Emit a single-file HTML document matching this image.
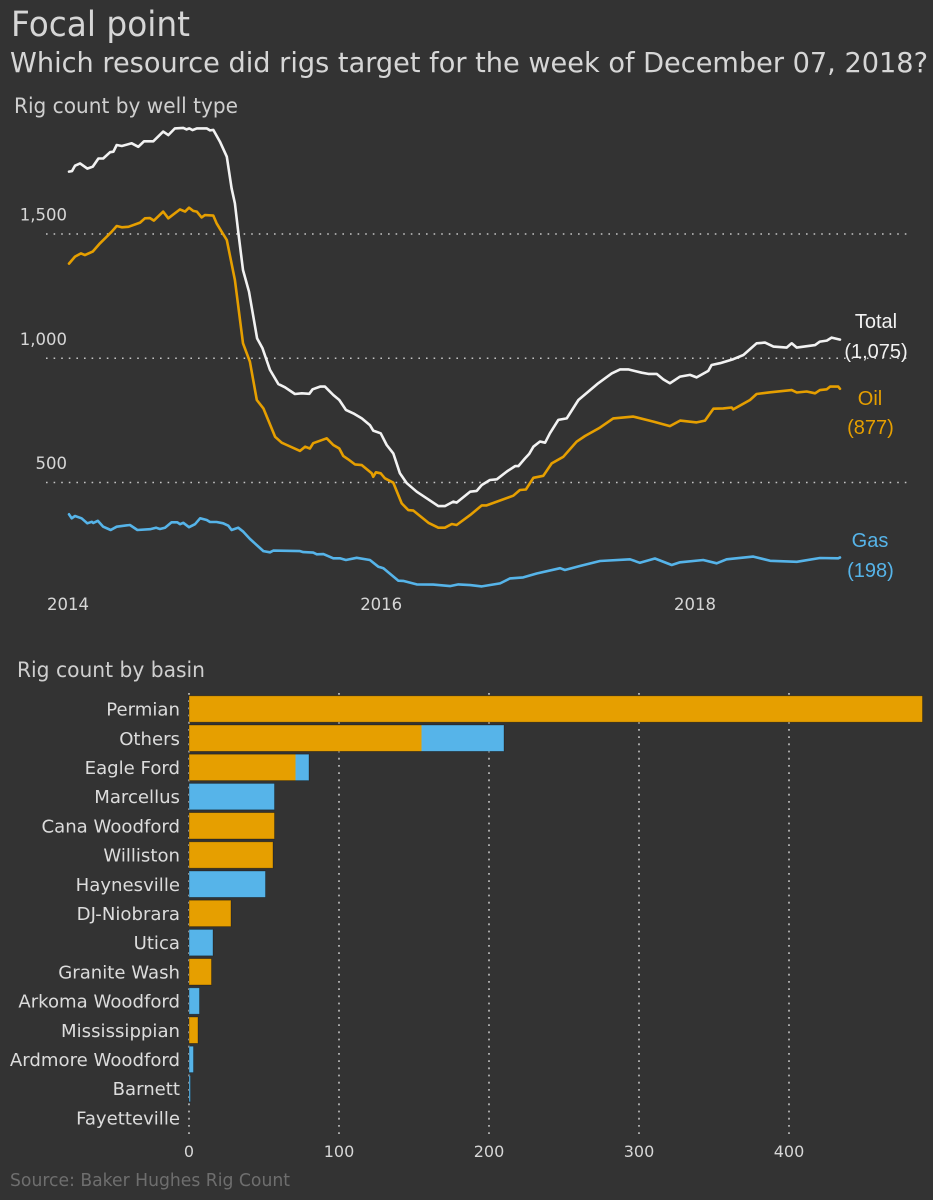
<!DOCTYPE html>
<html lang="en">
<head>
<meta charset="utf-8">
<title>Focal point</title>
<style>
  html, body { margin: 0; padding: 0; background: #333333; }
  svg { display: block; }
  text { font-family: "DejaVu Sans", "Liberation Sans", sans-serif; }
  .arial { font-family: "Liberation Sans", sans-serif; }
</style>
</head>
<body>
<svg id="chart" xmlns="http://www.w3.org/2000/svg" width="933" height="1200" viewBox="0 0 933 1200">
  <rect x="0" y="0" width="933" height="1200" fill="#333333"/>
  <text x="11" y="36" font-size="34.5" fill="#d6d6d6" textLength="179" lengthAdjust="spacingAndGlyphs">Focal point</text>
  <text x="10" y="72" font-size="27.5" fill="#d6d6d6" textLength="918" lengthAdjust="spacingAndGlyphs">Which resource did rigs target for the week of December 07, 2018?</text>
  <text x="14" y="113" font-size="21.5" fill="#cfcfcf" textLength="224" lengthAdjust="spacingAndGlyphs">Rig count by well type</text>
  <text x="17" y="677" font-size="21.5" fill="#cfcfcf" textLength="188" lengthAdjust="spacingAndGlyphs">Rig count by basin</text>
  <g id="hgrid"></g>
  <g id="yticks"></g>
  <g id="xticks"></g>
  <g id="lines"></g>
  <text class="arial" x="876" y="328" font-size="20" fill="#f2f2f2" text-anchor="middle">Total</text>
  <text class="arial" id="total-value" x="876" y="358" font-size="20" fill="#f2f2f2" text-anchor="middle">(1,075)</text>
  <text class="arial" x="870" y="405" font-size="20" fill="#E69F00" text-anchor="middle">Oil</text>
  <text class="arial" id="oil-value" x="870.5" y="434" font-size="20" fill="#E69F00" text-anchor="middle">(877)</text>
  <text class="arial" x="870" y="547" font-size="20" fill="#56B4E9" text-anchor="middle">Gas</text>
  <text class="arial" id="gas-value" x="870.5" y="577" font-size="20" fill="#56B4E9" text-anchor="middle">(198)</text>
  <g id="vgrid"></g>
  <g id="bars"></g>
  <g id="barlabels"></g>
  <g id="barticks"></g>
  <text x="10" y="1186" font-size="18" fill="#6e6e6e" textLength="280" lengthAdjust="spacingAndGlyphs">Source: Baker Hughes Rig Count</text>
</svg>
<script>
// Line chart data: weeks since the start of January 2014, rig counts
const totalWeeks = [0,1,2,3.7,6.1,7.9,9.8,11.4,13.7,14.8,15.9,17.6,20.9,23.1,25,28.1,31.4,33.1,35.3,38.1,39.2,40.1,41.2,42.6,45.9,47,48.1,50.3,52.6,54.2,55.3,56.4,58,60,62.7,64.5,67,69.8,72,75.3,77.6,80.1,81.2,83.7,85.3,88.1,90.1,92.3,94.8,97.6,100.3,101.4,103.9,105.9,108.1,110.3,112.6,115.9,119.8,123.1,125.3,128.1,129.2,133.7,135.9,137.6,140.3,142.6,145.9,148.7,149.8,152,153.4,154.8,157,158.7,160.3,163.1,165.9,169.8,176.4,180.9,183.7,186.4,190.9,193.1,195.9,198.1,200.3,203.7,207,209.2,213.1,214.2,217,221.4,224.8,229.2,232,234.8,239.2,240.9,242.6,248.7,250.3,252.6,254.2,257];
const totalRigs = [1751,1753,1775,1784,1763,1771,1804,1804,1829,1831,1858,1854,1865,1851,1873,1873,1912,1898,1925,1927,1921,1925,1918,1925,1925,1917,1919,1872,1811,1684,1623,1510,1355,1268,1080,1040,953,896,883,856,859,857,875,886,886,852,832,792,778,758,731,709,698,651,617,537,497,463,432,405,405,423,419,463,466,490,510,513,544,566,566,597,615,644,665,660,698,752,758,832,899,939,955,955,942,937,937,915,899,926,933,923,949,973,980,996,1013,1060,1063,1047,1043,1060,1043,1053,1067,1071,1083,1075];
const oilWeeks = [0,2,4,5.3,7.9,10.3,14.2,15.9,17.6,19.8,23.7,25.3,27,28.3,31.4,33.1,37,38.7,40,41.4,42.6,44.2,45.3,48.1,49.2,50.9,52.6,55.3,58,60.3,62.6,64.8,68.7,70.9,72.6,77,78.7,80.3,81.4,85.9,88.1,90.1,91.4,93.1,95.3,97.6,100.9,101.4,102.3,103.9,105.3,108.1,110.9,113.1,114.8,119.8,123.1,125.3,127.6,129.2,133.7,137.6,139.2,148.1,150.3,152.3,154.8,158.1,160.9,164.8,169.2,172,177,181.4,188.1,194.8,200.3,203.7,209.2,212,214.8,218.1,220.9,221.4,227,229.2,233.7,240.9,242.6,245.9,248.7,250.3,252.6,253.7,256.4,257];
const oilRigs = [1381,1409,1422,1415,1429,1462,1509,1532,1527,1529,1546,1563,1564,1554,1590,1563,1599,1590,1606,1593,1590,1567,1576,1574,1543,1509,1476,1315,1060,986,832,798,684,660,651,627,644,637,658,678,651,637,607,593,573,570,537,523,541,537,517,499,416,389,387,338,318,318,333,329,369,408,408,447,470,472,519,527,577,604,664,687,721,758,765,745,727,749,742,749,797,798,802,794,832,856,863,872,862,866,859,872,875,886,886,877];
const gasWeeks = [0,0.9,2,4.2,6.1,7.6,8.1,9.6,11.4,13.9,15.9,20.3,22.8,27,29,30.3,32,34.2,36.1,37,38.1,40,42,43.7,45.9,47,49.2,51.4,53.1,54.2,56.4,58.1,60.3,64.8,67,68.1,77,78.1,81.4,82.6,84.8,88.1,90.3,92.3,95.9,100.3,103.1,104.8,109.8,111.4,115.9,121.4,127,129.8,133.7,137.6,143.7,147,151.4,155.9,163.7,165.3,170.3,177,187,190.3,195.3,200.9,203.7,211.4,215.9,219.2,228.1,233.7,242.6,250.3,256.4,257];
const gasRigs = [372,356,365,356,336,342,337,346,322,309,322,329,309,312,318,313,318,340,340,332,338,320,332,356,349,341,341,336,326,309,318,302,273,224,219,226,224,220,218,211,212,195,195,188,197,188,161,155,105,104,90,89,83,90,87,82,94,114,118,134,155,148,164,184,191,177,194,168,179,188,175,191,202,185,181,196,195,198];

const rigTicks = [500,1000,1500];
const rigTickLabels = ['500','1,000','1,500'];
const weekTicks = [0,104.4,209];
const weekTickLabels = ['2014','2016','2018'];

// Bar chart data
const basins = ['Permian','Others','Eagle Ford','Marcellus','Cana Woodford','Williston','Haynesville','DJ-Niobrara','Utica','Granite Wash','Arkoma Woodford','Mississippian','Ardmore Woodford','Barnett','Fayetteville'];
const basinOil = [489,155,71,0,57,56,0,28,0,15,0,6,0,0,0];
const basinGas = [0,55,9,57,0,0,51,0,16,0,7,0,3,1,0];
const countTicks = [0,100,200,300,400];

const NS = 'http://www.w3.org/2000/svg';
function make(parent, tag, attrs, txt) {
  const el = document.createElementNS(NS, tag);
  for (const k in attrs) el.setAttribute(k, attrs[k]);
  if (txt !== undefined) el.textContent = txt;
  parent.appendChild(el);
  return el;
}
const byId = (i) => document.getElementById(i);

// Axis functions
const xWeek = (w) => 69 + 3 * w;
const yRig = (v) => 606.75 - 0.2485 * v;
const xCount = (v) => 189 + 1.5 * v;
const yBasin = (i) => 709 + 29.2 * i;
const BAR_H = 26.4;

// Horizontal gridlines and y labels
rigTicks.forEach(function (t, i) {
  const g = make(byId('hgrid'), 'line', { x1: 46, x2: 909, y1: yRig(t), y2: yRig(t), stroke: '#c4c4c4', 'stroke-width': 1.6, 'stroke-dasharray': '1.6 6' });
  
  
  const l = make(byId('yticks'), 'text', { x: 67, y: yRig(t) - 13.5, 'font-size': 16.5, fill: '#d6d6d6', 'text-anchor': 'end' }, rigTickLabels[i]);
  
  
});

// X labels
weekTicks.forEach(function (t, i) {
  const l = make(byId('xticks'), 'text', { x: xWeek(t) - 1, y: 610, 'font-size': 16.5, fill: '#d6d6d6', 'text-anchor': 'middle' }, weekTickLabels[i]);
  
  
});

// Lines
function drawLine(weeks, values, colour) {
  const pts = weeks.map(function (w, i) { return xWeek(w).toFixed(1) + ',' + yRig(values[i]).toFixed(1); }).join(' ');
  return make(byId('lines'), 'polyline', { points: pts, fill: 'none', stroke: colour, 'stroke-width': 2.6, 'stroke-linejoin': 'round', 'stroke-linecap': 'round' });
}
const gasLine = drawLine(gasWeeks, gasRigs, '#56B4E9');


const oilLine = drawLine(oilWeeks, oilRigs, '#E69F00');


const totalLine = drawLine(totalWeeks, totalRigs, '#f2f2f2');



// Vertical gridlines and labels
countTicks.forEach(function (t) {
  const g = make(byId('vgrid'), 'line', { x1: xCount(t), x2: xCount(t), y1: 693, y2: 1134, stroke: '#b4b4b4', 'stroke-width': 1.8, 'stroke-dasharray': '1.8 5.4' });
  
  
  const l = make(byId('barticks'), 'text', { x: xCount(t), y: 1157, 'font-size': 16, fill: '#d6d6d6', 'text-anchor': 'middle' }, String(t));
  
  
});

// Bars and labels
basins.forEach(function (name, i) {
  const y = yBasin(i) - BAR_H / 2;
  const oil = basinOil[i];
  const gas = basinGas[i];
  if (oil > 0) {
    const r = make(byId('bars'), 'rect', { x: xCount(0), y: y, width: xCount(oil) - xCount(0), height: BAR_H, fill: '#E69F00' });
    
    
  }
  if (gas > 0) {
    const r = make(byId('bars'), 'rect', { x: xCount(oil), y: y, width: xCount(oil + gas) - xCount(oil), height: BAR_H, fill: '#56B4E9' });
    
    
  }
  if (oil + gas > 0) {
    const o = make(byId('bars'), 'rect', { x: xCount(0), y: y, width: xCount(oil + gas) - xCount(0), height: BAR_H, fill: 'none', stroke: '#000000', 'stroke-opacity': 0.35, 'stroke-width': 0.8 });
    
    
  }
  const l = make(byId('barlabels'), 'text', { x: 180, y: yBasin(i) + 6.6, 'font-size': 18.1, fill: '#dcdcdc', 'text-anchor': 'end' }, name);
  
  
});
</script>
</body>
</html>
